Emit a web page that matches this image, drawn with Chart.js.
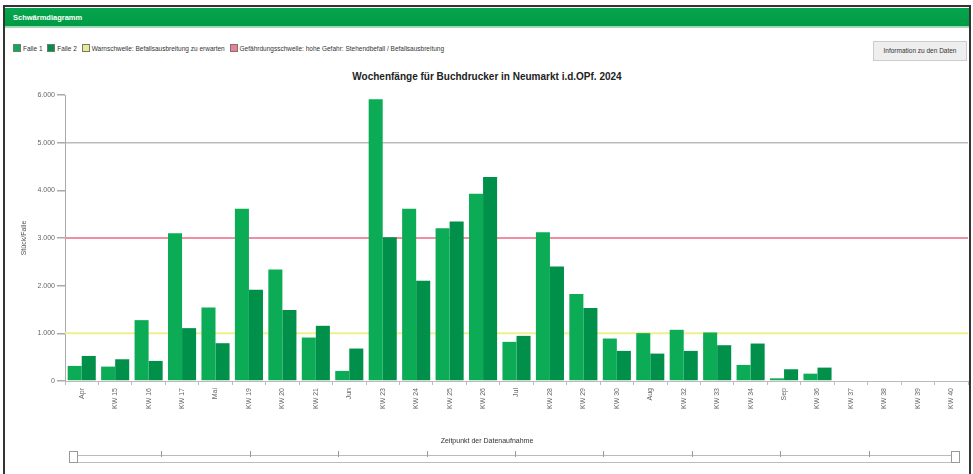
<!DOCTYPE html>
<html>
<head>
<meta charset="utf-8">
<script src="https://cdn.jsdelivr.net/npm/chart.js@4/dist/chart.umd.min.js"></script>
<style>
  body { margin: 0; background: #fff; font-family: "Liberation Sans", Arial, sans-serif; }
  #frame { position: absolute; left: 3px; top: 5px; width: 964px; height: 475px; border: 2px solid #333; border-bottom: none; background: #fff; }
  #head { position: absolute; left: 0; top: 1px; width: 964px; height: 20px; background: linear-gradient(#06a64e, #009a45); border-bottom: 2px solid #9fd9b5; color: #fff; font-size: 7.5px; font-weight: bold; line-height: 20px; padding-left: 8px; box-sizing: border-box; }
  #legend { position: absolute; left: 8px; top: 37px; font-size: 6.5px; color: #333; white-space: nowrap; }
  #legend span.box { display: inline-block; width: 8px; height: 8px; vertical-align: middle; margin-right: 2px; border: 1px solid #777; box-sizing: border-box; }
  #legend span.item { margin-right: 3px; vertical-align: middle; }
  #info { position: absolute; right: 2px; top: 34px; width: 92px; height: 18px; background: #eee; border: 1px solid #ccc; font-size: 6.5px; color: #333; line-height: 18px; text-align: center; }
  #title { position: absolute; left: 0; width: 964px; top: 64px; text-align: center; font-size: 10px; font-weight: bold; color: #222; }
  #chartbox { position: absolute; left: 5px; top: 80px; width: 962px; height: 362px; }
  #xtitle { position: absolute; left: 0; width: 964px; top: 430px; text-align: center; font-size: 7px; color: #333; }
  #slider { position: absolute; left: 68px; top: 448px; width: 884px; height: 6px; border: 1px solid #bbb; border-left: none; border-right: none; }
  .tk { position: absolute; top: -5px; width: 1px; height: 6px; background: #999; }
  .hd { position: absolute; top: -5px; width: 7px; height: 10px; border: 1px solid #999; background: #fff; }
</style>
</head>
<body>
<div id="frame">
  <div id="head">Schwärmdiagramm</div>
  <div id="legend">
    <span class="box" style="background:#0cac57"></span><span class="item">Falle 1</span>
    <span class="box" style="background:#00904a"></span><span class="item">Falle 2</span>
    <span class="box" style="background:#e8ec8a"></span><span class="item">Warnschwelle: Befallsausbreitung zu erwarten</span>
    <span class="box" style="background:#ee7d96"></span><span class="item">Gefährdungsschwelle: hohe Gefahr: Stehendbefall / Befallsausbreitung</span>
  </div>
  <div id="info">Information zu den Daten</div>
  <div id="title">Wochenfänge für Buchdrucker in Neumarkt i.d.OPf. 2024</div>
  <div id="chartbox"><canvas id="c"></canvas></div>
  <div id="xtitle">Zeitpunkt der Datenaufnahme</div>
  <div id="slider"></div>
</div>
<script>
const weeks = ['Apr', 'KW 15', 'KW 16', 'KW 17', 'Mai', 'KW 19', 'KW 20', 'KW 21', 'Jun',
  'KW 23', 'KW 24', 'KW 25', 'KW 26', 'Jul', 'KW 28', 'KW 29', 'KW 30', 'Aug', 'KW 32',
  'KW 33', 'KW 34', 'Sep', 'KW 36', 'KW 37', 'KW 38', 'KW 39', 'KW 40'];
const falle1 = [316, 302, 1277, 3102, 1544, 3614, 2337, 912, 211, 5909, 3614, 3207, 3930,
  821, 3123, 1825, 891, 1004, 1074, 1018, 337, 56, 154, null, null, null, null];
const falle2 = [526, 456, 421, 1109, 793, 1916, 1488, 1158, 681, 3018, 2105, 3347, 4281,
  947, 2400, 1530, 632, 575, 632, 751, 786, 246, 281, null, null, null, null];
const warnschwelle = 1000;
const gefahrschwelle = 3000;
const yTicks = [0, 1000, 2000, 3000, 4000, 5000, 6000];

// slider ticks
const sl = document.getElementById('slider');
for (let i = 1; i < 10; i++) {
  const t = document.createElement('div');
  t.className = 'tk';
  t.style.left = (i * 88.4) + 'px';
  sl.appendChild(t);
}
['-4px', '878px'].forEach(l => {
  const h = document.createElement('div');
  h.className = 'hd';
  h.style.left = l;
  sl.appendChild(h);
});

const thresholdLines = {
  id: 'thresholdLines',
  beforeDatasetsDraw(chart) {
    const { ctx, chartArea, scales } = chart;
    [[warnschwelle, '#eef08c'], [gefahrschwelle, '#f08ea4']].forEach(([v, col]) => {
      const y = scales.y.getPixelForValue(v);
      ctx.save();
      ctx.strokeStyle = col;
      ctx.lineWidth = 2;
      ctx.beginPath();
      ctx.moveTo(chartArea.left, y);
      ctx.lineTo(chartArea.right, y);
      ctx.stroke();
      ctx.restore();
    });
  }
};

new Chart(document.getElementById('c'), {
  type: 'bar',
  data: {
    labels: weeks,
    datasets: [
      { label: 'Falle 1', data: falle1, backgroundColor: '#0cac57', barPercentage: 1.0, categoryPercentage: 0.84 },
      { label: 'Falle 2', data: falle2, backgroundColor: '#00904a', barPercentage: 1.0, categoryPercentage: 0.84 }
    ]
  },
  options: {
    responsive: true,
    maintainAspectRatio: false,
    animation: false,
    layout: { padding: { top: 8, right: 4 } },
    plugins: { legend: { display: false }, tooltip: { enabled: false } },
    scales: {
      x: {
        afterFit: s => { s.height = 68; },
        grid: { drawOnChartArea: false, color: '#bbb', tickLength: 4 },
        border: { color: '#bbb' },
        ticks: { minRotation: 90, maxRotation: 90, autoSkip: false, color: '#666', font: { size: 7, family: 'Liberation Sans' } }
      },
      y: {
        min: 0,
        max: 6000,
        afterFit: s => { s.width = 55; },
        afterBuildTicks: s => { s.ticks = yTicks.map(v => ({ value: v })); },
        grid: {
          color: c => (c.tick && c.tick.value === 5000 ? '#bbb' : 'rgba(0,0,0,0)'),
          lineWidth: 1.5,
          tickColor: '#aaa',
          tickLength: 8
        },
        border: { color: '#aaa' },
        ticks: {
          color: '#666',
          padding: 2,
          font: { size: 7, family: 'Liberation Sans' },
          callback: v => v.toLocaleString('de-DE')
        },
        title: { display: true, text: 'Stück/Falle', color: '#555', font: { size: 7, family: 'Liberation Sans' }, padding: { top: 10, bottom: 0 } }
      }
    }
  },
  plugins: [thresholdLines]
});
</script>
</body>
</html>
